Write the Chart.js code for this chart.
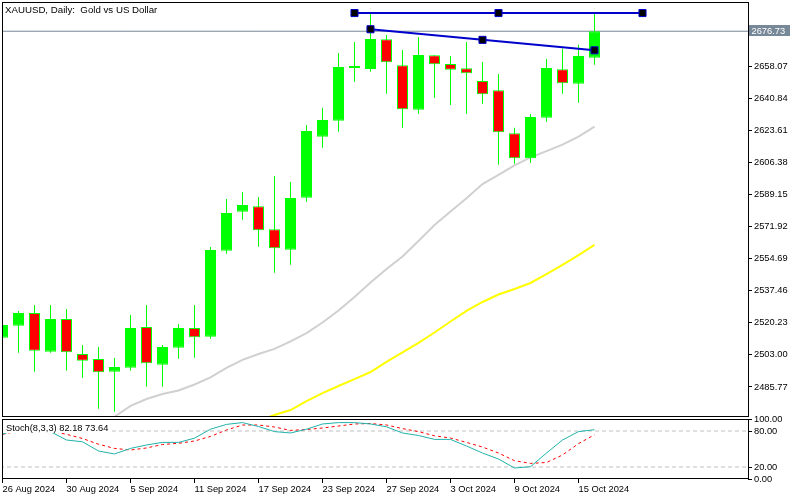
<!DOCTYPE html>
<html>
<head>
<meta charset="utf-8">
<title>XAUUSD, Daily</title>
<script src="https://cdn.jsdelivr.net/npm/chart.js@4.4.1/dist/chart.umd.min.js"></script>
<style>
  html, body { margin:0; padding:0; background:#ffffff; }
  #wrap { position:relative; width:800px; height:500px; overflow:hidden; background:#ffffff; }
  #wrap canvas { position:absolute; left:0; top:0; }
</style>
</head>
<body>
<div id="wrap">
  <canvas id="priceChart" width="800" height="500"></canvas>
  <canvas id="stochChart" width="800" height="500"></canvas>
</div>
<script>
// ---------------- DATA ----------------
const dates = ['26 Aug 2024','27 Aug 2024','28 Aug 2024','29 Aug 2024','30 Aug 2024',
  '2 Sep 2024','3 Sep 2024','4 Sep 2024','5 Sep 2024','6 Sep 2024',
  '9 Sep 2024','10 Sep 2024','11 Sep 2024','12 Sep 2024','13 Sep 2024',
  '16 Sep 2024','17 Sep 2024','18 Sep 2024','19 Sep 2024','20 Sep 2024',
  '23 Sep 2024','24 Sep 2024','25 Sep 2024','26 Sep 2024','27 Sep 2024',
  '30 Sep 2024','1 Oct 2024','2 Oct 2024','3 Oct 2024','4 Oct 2024',
  '7 Oct 2024','8 Oct 2024','9 Oct 2024','10 Oct 2024','11 Oct 2024',
  '14 Oct 2024','15 Oct 2024','16 Oct 2024'];

const opens  = [2512.22,2518.66,2525.48,2504.71,2522.26,2503.47,2500.79,2493.97,2496.12,2517.97,
  2497.73,2506.85,2517.43,2512.76,2558.92,2579.86,2582.76,2570.41,2559.46,2587.37,
  2620.12,2628.71,2657.00,2656.46,2672.40,2658.45,2634.61,2663.82,2659.14,2656.84,
  2650.02,2645.03,2621.94,2608.52,2630.32,2656.30,2648.57,2662.53];
const highs  = [2522.80,2526.56,2529.78,2529.78,2527.63,2508.30,2507.23,2501.33,2524.41,2529.78,
  2508.30,2519.58,2529.78,2560.91,2586.68,2590.43,2587.75,2599.02,2595.80,2626.40,
  2635.69,2665.05,2670.95,2686.36,2674.71,2666.66,2673.64,2664.00,2663.44,2670.95,
  2660.22,2653.78,2624.95,2632.30,2661.83,2667.36,2669.51,2686.36];
const lows   = [2508.30,2504.17,2493.97,2504.17,2494.51,2490.75,2474.11,2472.50,2494.51,2485.92,
  2485.92,2500.95,2501.49,2511.69,2557.31,2575.57,2561.07,2547.11,2551.41,2585.23,
  2614.21,2622.80,2649.64,2655.01,2643.20,2624.95,2632.47,2641.05,2637.14,2632.47,
  2637.83,2605.09,2605.63,2606.00,2628.17,2643.20,2638.37,2658.77];
const closes = [2519.04,2525.48,2505.24,2522.26,2504.39,2499.88,2493.65,2496.49,2517.43,2498.48,
  2507.23,2517.43,2512.44,2559.30,2579.16,2583.46,2569.87,2560.21,2587.21,2623.18,
  2629.08,2657.53,2658.07,2672.56,2660.06,2634.83,2663.98,2658.98,2656.08,2654.15,
  2642.88,2622.48,2608.52,2630.69,2657.00,2648.78,2663.44,2676.73];

// moving averages (null = below the visible window)
const maGray = [null,null,null,null,null,null,2466.0,2469.8,2475.6,2479.3,
  2482.0,2483.9,2487.1,2490.9,2496.0,2500.3,2503.5,2506.2,2510.2,2514.7,
  2520.4,2526.8,2534.1,2541.9,2549.1,2555.8,2564.1,2572.7,2580.0,2587.1,
  2594.7,2599.6,2604.7,2609.0,2612.4,2615.9,2620.2,2625.5];
const maYellow = [null,null,null,null,null,null,null,null,null,null,
  null,null,null,null,null,2464.0,2467.5,2470.7,2473.4,2478.2,
  2482.5,2486.3,2490.0,2493.8,2499.2,2504.3,2509.4,2515.0,2520.9,2526.6,
  2531.4,2535.4,2538.4,2541.6,2546.4,2551.3,2556.6,2562.0];

// Stochastic(8,3,3)
const stochK = [74.5,84,86,79,65,62,46.7,41.7,51,56.7,
  61,61,68,83,91,94,87.5,79,76.7,83,
  91.7,94,94,91.7,87,76.7,72.5,66,66,55,
  43.3,33.3,18.3,20.5,43.3,65,79,82.18];
const stochD = [74.5,80,82,80,74.5,67.5,58,51,48.3,51.7,
  57.5,59.5,63.3,71,81.7,90,90,86.7,81,82.5,
  85,88.3,91.7,92.5,90,84,79,72,68.3,61,
  53.3,43.3,30.5,26,27.5,40,59,73.64];
const stochLevels = [20, 80];

// drawn objects
const hLineX = [22, 31, 40];
const hLineY = [2686.5, 2686.5, 2686.5];
const trendX = [23, 30, 37];
const trendY = [2677.8, 2672.1, 2666.5];
const currentPrice = 2676.73;

// tick labels
const priceTicks = [2485.77,2503.00,2520.23,2537.46,2554.69,2571.92,2589.15,2606.38,2623.61,2640.84,2658.07,2675.30];
const stochTicks = [0, 20, 80, 100];
const dateTickIdx = [0,4,8,12,16,20,24,28,32,36];
const titleText = 'XAUUSD, Daily:  Gold vs US Dollar';
const stochTitle = 'Stoch(8,3,3) 82.18 73.64';

// ---------------- LAYOUT ----------------
const FAMILY = "'Liberation Sans', Arial, sans-serif";
const X_MIN = -0.03125;
const X_MAX = X_MIN + 746 / 16;
const Y_MIN = 2469.654;
const Y_MAX = 2692.426;
const GREEN = '#00FF00';
const RED = '#FF0000';

const pts = (arr) => arr.map((v, i) => (v == null ? null : { x: i, y: v })).filter(p => p);
const ZERO = () => ({ left: 0, top: 0, right: 0, bottom: 0 });
const noPad = (s) => {
  s.paddingTop = 0; s.paddingBottom = 0; s.paddingLeft = 0; s.paddingRight = 0;
  if (s._margins) { s._margins.top = 0; s._margins.bottom = 0; s._margins.left = 0; s._margins.right = 0; }
  s.getPadding = ZERO;
};

Chart.defaults.font.family = FAMILY;
Chart.defaults.color = '#000';

// ---------------- PRICE CHART ----------------
const priceDecor = {
  id: 'priceDecor',
  afterDraw(chart) {
    const { ctx, chartArea: a, scales } = chart;
    ctx.save();
    ctx.strokeStyle = '#000';
    ctx.lineWidth = 1;
    ctx.strokeRect(a.left + 0.5, a.top + 0.5, a.right - a.left, a.bottom - a.top - 1);
    // title
    ctx.fillStyle = '#000';
    ctx.font = '9.7px ' + FAMILY;
    ctx.textBaseline = 'alphabetic';
    ctx.textAlign = 'left';
    ctx.fillText(titleText, 5, 12.5);
    // current price tag
    const py = scales.y.getPixelForValue(currentPrice);
    ctx.fillStyle = '#778899';
    ctx.fillRect(749, Math.round(py) - 6, 41, 11);
    ctx.fillStyle = '#FFFFFF';
    ctx.font = '9.3px ' + FAMILY;
    ctx.textBaseline = 'middle';
    ctx.fillText(currentPrice.toFixed(2), 751.5, Math.round(py));
    ctx.restore();
  }
};

new Chart(document.getElementById('priceChart'), {
  type: 'bar',
  data: {
    datasets: [
      { type: 'line', label: 'price', data: [{ x: X_MIN - 1, y: currentPrice }, { x: X_MAX + 1, y: currentPrice }],
        borderColor: '#778899', borderWidth: 1, pointRadius: 0, order: 10, clip: 0 },
      { type: 'line', label: 'maGray', data: pts(maGray), borderColor: '#D0D0D0', borderWidth: 2,
        pointRadius: 0, tension: 0, order: 9, clip: 0 },
      { type: 'line', label: 'maYellow', data: pts(maYellow), borderColor: '#FFFF00', borderWidth: 2,
        pointRadius: 0, tension: 0, order: 8, clip: 0 },
      { type: 'bar', label: 'wicks', data: lows.map((l, i) => ({ x: i, y: [l, highs[i]] })),
        backgroundColor: GREEN, borderWidth: 0, maxBarThickness: 1, grouped: false, inflateAmount: 0, order: 5 },
      { type: 'bar', label: 'bodies', data: opens.map((o, i) => ({ x: i, y: [o, closes[i]] })),
        backgroundColor: opens.map((o, i) => (closes[i] >= o ? GREEN : RED)),
        borderColor: GREEN, borderWidth: 1, borderSkipped: false, maxBarThickness: 11,
        grouped: false, inflateAmount: 0, order: 4 },
      { type: 'line', label: 'resistance', data: hLineX.map((x, i) => ({ x, y: hLineY[i] })),
        borderColor: '#0000CD', borderWidth: 2, pointStyle: 'rect', pointRadius: 5,
        pointBackgroundColor: '#000', pointBorderColor: '#0000CD', pointBorderWidth: 1, order: 1, clip: 0 },
      { type: 'line', label: 'trend', data: trendX.map((x, i) => ({ x, y: trendY[i] })),
        borderColor: '#0000CD', borderWidth: 2, pointStyle: 'rect', pointRadius: 5,
        pointBackgroundColor: '#000', pointBorderColor: '#0000CD', pointBorderWidth: 1, order: 0, clip: 0 }
    ]
  },
  options: {
    responsive: false, animation: false, devicePixelRatio: 1, events: [],
    layout: { autoPadding: false, padding: { left: 2, top: 2, right: 0, bottom: 83 } },
    plugins: { legend: { display: false }, tooltip: { enabled: false }, title: { display: false } },
    scales: {
      x: { type: 'linear', min: X_MIN, max: X_MAX, display: false, offset: false, grid: { offset: false } },
      y: {
        type: 'linear', position: 'right', min: Y_MIN, max: Y_MAX, beginAtZero: false,
        afterBuildTicks: (s) => { s.ticks = priceTicks.map(v => ({ value: v })); },
        afterFit: (s) => { s.width = 52; noPad(s); },
        ticks: { callback: (v) => Number(v).toFixed(2), font: { family: FAMILY, size: 9.3 }, color: '#000',
                 padding: 2, autoSkip: false },
        grid: { drawOnChartArea: false, drawTicks: true, tickLength: 4, color: '#000' },
        border: { display: false }
      }
    }
  },
  plugins: [priceDecor]
});

// ---------------- STOCHASTIC CHART ----------------
const stochDecor = {
  id: 'stochDecor',
  afterDraw(chart) {
    const { ctx, chartArea: a } = chart;
    ctx.save();
    ctx.strokeStyle = '#000';
    ctx.lineWidth = 1;
    ctx.strokeRect(a.left + 0.5, a.top + 0.5, a.right - a.left, a.bottom - a.top - 1);
    ctx.font = '9.3px ' + FAMILY;
    const w = ctx.measureText(stochTitle).width;
    ctx.fillStyle = '#FFFFFF';
    ctx.fillRect(a.left + 1, a.top + 1, w + 6, 13);
    ctx.fillStyle = '#000';
    ctx.textBaseline = 'alphabetic';
    ctx.textAlign = 'left';
    ctx.fillText(stochTitle, 6, a.top + 11.5);
    ctx.restore();
  }
};

new Chart(document.getElementById('stochChart'), {
  type: 'line',
  data: {
    datasets: [
      ...stochLevels.map((lv) => ({
        label: 'level' + lv, data: [{ x: X_MIN - 1, y: lv }, { x: X_MAX + 1, y: lv }],
        borderColor: '#C0C0C0', borderWidth: 1, borderDash: [4, 3], pointRadius: 0, order: 5, clip: 0
      })),
      { label: 'D', data: pts(stochD), borderColor: '#FF0000', borderWidth: 1, borderDash: [3, 3],
        pointRadius: 0, tension: 0, order: 2, clip: 0 },
      { label: 'K', data: pts(stochK), borderColor: '#20B2AA', borderWidth: 1,
        pointRadius: 0, tension: 0, order: 1, clip: 0 }
    ]
  },
  options: {
    responsive: false, animation: false, devicePixelRatio: 1, events: [],
    layout: { autoPadding: false, padding: { left: 2, top: 419, right: 0, bottom: 0 } },
    plugins: { legend: { display: false }, tooltip: { enabled: false } },
    scales: {
      x: {
        type: 'linear', position: 'bottom', min: X_MIN, max: X_MAX, offset: false,
        afterBuildTicks: (s) => { s.ticks = dateTickIdx.map(v => ({ value: v })); },
        afterFit: (s) => { s.height = 21; noPad(s); },
        ticks: { callback: (v) => dates[v], align: 'start', maxRotation: 0, minRotation: 0, autoSkip: false,
                 font: { family: FAMILY, size: 9.3 }, color: '#000', padding: 1 },
        grid: { drawOnChartArea: false, drawTicks: true, tickLength: 4, color: '#000', offset: false },
        border: { display: false }
      },
      y: {
        type: 'linear', position: 'right', min: 0, max: 100,
        afterBuildTicks: (s) => { s.ticks = stochTicks.map(v => ({ value: v })); },
        afterFit: (s) => { s.width = 52; noPad(s); },
        ticks: { callback: (v) => Number(v).toFixed(2), font: { family: FAMILY, size: 9.3 }, color: '#000',
                 padding: 2, autoSkip: false },
        grid: { drawOnChartArea: false, drawTicks: true, tickLength: 4, color: '#000' },
        border: { display: false }
      }
    }
  },
  plugins: [stochDecor]
});
</script>
</body>
</html>
